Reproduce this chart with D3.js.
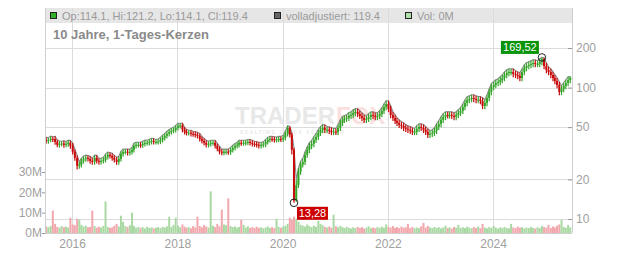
<!DOCTYPE html>
<html lang="de">
<head>
<meta charset="UTF-8">
<title>10 Jahre, 1-Tages-Kerzen</title>
<script src="https://d3js.org/d3.v7.min.js"></script>
<style>
  body { margin: 0; background: #fff; }
  svg { display: block; font-family: "Liberation Sans", Arial, sans-serif; }
  .grid line { stroke: #dcdcdc; stroke-width: 1; }
  .frame line { stroke: #cfcfcf; stroke-width: 1; }
  .axis path { display: none; }
  .axis line { stroke: #999; }
  .axis text { fill: #a0a0a0; font-size: 12px; font-family: "Liberation Sans", Arial, sans-serif; }
</style>
</head>
<body>
<svg id="chart" width="632" height="253"></svg>
<script>
// half-monthly candles, Jul 2015 - Jun 2025
const firstOpen = 39.8;
const closes = [
  39.3, 40.0, 40.7, 40.6, 38.6, 36.7, 37.3, 37.5, 36.7, 37.3,
  38.0, 36.0, 32.5, 29.2, 25.4, 25.9, 27.7, 28.7, 29.2, 28.7,
  27.7, 27.2, 29.2, 27.7, 27.2, 27.7, 28.2, 29.7, 30.8, 30.3,
  29.2, 28.2, 27.2, 28.7, 31.3, 32.5, 32.5, 31.9, 32.5, 33.6,
  36.0, 36.7, 36.7, 36.5, 37.3, 38.0, 38.0, 38.6, 39.3, 38.6,
  38.6, 38.8, 40.0, 41.5, 42.9, 44.5, 46.0, 46.9, 47.7, 49.4,
  51.1, 51.6, 47.7, 46.0, 45.2, 45.4, 44.5, 44.3, 43.7, 42.9,
  40.7, 39.3, 38.0, 36.7, 37.3, 38.0, 38.0, 36.0, 34.2, 32.5,
  31.9, 32.5, 32.5, 32.3, 33.6, 34.8, 36.0, 36.7, 38.0, 37.8,
  38.0, 38.2, 38.6, 38.0, 37.3, 37.1, 36.7, 36.0, 36.7, 36.9,
  38.6, 40.0, 40.7, 40.5, 40.0, 40.2, 40.7, 40.4, 41.5, 44.5,
  49.4, 43.7, 33.6, 13.8, 18.1, 22.9, 25.9, 27.2, 30.8, 33.6,
  36.0, 37.3, 40.0, 42.2, 45.2, 47.7, 49.4, 47.7, 47.7, 46.9,
  46.0, 46.2, 46.0, 49.4, 53.9, 56.8, 57.8, 58.8, 60.9, 61.9,
  64.1, 65.3, 63.0, 60.9, 58.8, 56.8, 57.8, 59.8, 61.9, 60.9,
  59.8, 60.9, 63.0, 66.4, 71.2, 75.0, 68.8, 61.9, 58.8, 55.8,
  53.9, 52.0, 51.1, 49.4, 48.5, 47.7, 46.9, 46.0, 46.0, 48.5,
  50.2, 49.4, 47.7, 46.0, 43.7, 44.5, 45.2, 46.9, 50.2, 52.9,
  56.8, 59.8, 61.9, 61.5, 61.9, 60.9, 59.8, 61.9, 64.1, 66.4,
  71.2, 76.4, 80.5, 81.9, 83.3, 81.9, 80.5, 80.8, 79.1, 72.5,
  76.4, 83.3, 92.6, 101.1, 104.6, 108.4, 110.3, 114.2, 118.3, 124.6,
  129.1, 131.3, 131.3, 126.8, 124.6, 122.5, 118.3, 131.3, 140.9, 145.9,
  148.5, 151.1, 153.8, 151.1, 151.1, 156.5, 164.9, 145.9, 136.0, 131.3,
  124.6, 118.3, 112.2, 104.6, 92.6, 97.6, 102.8, 108.4, 114.2, 119.4
];
const highs = [
  41.8, 41.6, 42.7, 42.3, 42.6, 40.1, 39.2, 39.0, 39.4, 38.9,
  39.8, 39.6, 37.8, 34.0, 30.6, 27.2, 29.0, 30.0, 30.6, 30.4,
  30.0, 29.0, 30.6, 30.5, 28.9, 29.0, 29.5, 31.1, 32.3, 32.1,
  31.7, 30.5, 29.5, 30.0, 32.8, 34.0, 34.0, 34.0, 34.0, 35.2,
  37.7, 38.4, 38.4, 38.3, 39.0, 39.8, 39.7, 40.4, 41.1, 41.0,
  40.3, 40.6, 41.8, 43.4, 44.8, 46.5, 48.1, 49.0, 49.8, 51.6,
  53.4, 53.5, 53.6, 49.8, 48.1, 47.4, 47.4, 46.5, 46.3, 45.7,
  44.8, 42.5, 41.1, 39.7, 39.0, 39.7, 39.7, 39.7, 37.6, 35.7,
  34.0, 34.0, 34.0, 34.0, 35.1, 36.4, 37.6, 38.4, 39.7, 39.7,
  39.7, 39.9, 40.3, 40.3, 39.7, 39.0, 38.8, 38.4, 38.4, 38.6,
  40.3, 41.8, 42.5, 42.5, 42.3, 42.0, 42.5, 42.5, 43.4, 46.5,
  51.3, 50.6, 45.5, 34.8, 19.9, 24.4, 27.5, 28.9, 32.5, 35.5,
  38.1, 39.5, 42.4, 44.7, 47.9, 50.5, 52.3, 52.2, 50.4, 50.2,
  49.6, 48.9, 48.9, 52.3, 57.0, 60.1, 61.2, 62.2, 64.5, 65.5,
  67.8, 69.1, 69.0, 66.6, 64.4, 62.2, 61.1, 63.3, 65.5, 65.4,
  64.4, 64.4, 66.7, 70.3, 75.3, 79.3, 79.4, 72.8, 65.5, 62.2,
  59.0, 57.0, 55.0, 54.0, 52.3, 51.3, 50.5, 49.6, 48.7, 51.3,
  53.1, 53.1, 52.3, 50.5, 48.7, 47.1, 47.8, 49.6, 53.1, 56.0,
  60.1, 63.3, 65.5, 65.5, 65.5, 65.5, 64.4, 65.5, 67.8, 70.3,
  75.3, 80.8, 85.2, 86.7, 88.1, 88.1, 86.7, 85.5, 85.5, 83.7,
  80.8, 88.1, 98.0, 107.0, 110.7, 114.7, 116.7, 120.8, 125.2, 131.8,
  136.6, 138.9, 138.9, 138.9, 134.2, 131.8, 129.6, 138.9, 149.1, 154.4,
  157.1, 159.9, 162.7, 162.7, 159.9, 165.6, 169.52, 168.5, 154.4, 143.9,
  138.9, 131.8, 125.2, 118.7, 110.7, 103.3, 108.8, 114.7, 120.8, 121.2
];
const lows = [
  37.6, 37.4, 38.4, 38.6, 36.8, 35.2, 34.9, 35.7, 34.8, 35.1,
  35.5, 34.3, 31.0, 27.8, 23.8, 24.1, 24.6, 26.4, 27.3, 27.4,
  26.3, 25.9, 25.9, 26.4, 25.9, 26.0, 26.4, 26.9, 28.3, 28.9,
  27.8, 26.9, 25.9, 25.9, 27.4, 29.9, 31.0, 30.4, 30.4, 31.0,
  32.1, 34.4, 35.0, 34.8, 34.9, 35.6, 36.3, 36.3, 36.9, 36.9,
  36.9, 36.9, 37.1, 38.2, 39.6, 41.0, 42.5, 43.9, 44.8, 45.6,
  47.2, 48.8, 45.6, 43.9, 43.2, 43.2, 42.5, 42.3, 41.7, 41.0,
  38.9, 37.5, 36.3, 35.0, 35.0, 35.6, 36.3, 34.4, 32.7, 31.0,
  30.5, 30.5, 31.0, 30.8, 30.8, 32.1, 33.2, 34.4, 35.0, 36.1,
  36.1, 36.3, 36.5, 36.3, 35.6, 35.4, 35.0, 34.4, 34.4, 35.0,
  35.2, 36.9, 38.2, 38.7, 38.2, 38.2, 38.4, 38.6, 38.6, 39.6,
  42.5, 41.7, 31.0, 13.28, 13.5, 17.2, 21.7, 24.6, 25.8, 29.3,
  31.7, 34.0, 35.2, 37.8, 39.9, 42.8, 45.1, 45.1, 45.1, 44.4,
  43.5, 43.5, 43.5, 43.5, 46.7, 51.0, 53.7, 54.7, 55.6, 57.6,
  58.5, 60.6, 59.6, 57.6, 55.6, 53.7, 53.7, 54.7, 56.5, 57.6,
  56.5, 56.5, 57.6, 59.6, 62.8, 67.3, 65.1, 58.5, 55.6, 52.8,
  51.0, 49.2, 48.3, 46.7, 45.9, 45.1, 44.4, 43.5, 43.5, 43.5,
  45.9, 46.7, 45.1, 43.5, 41.3, 41.3, 42.1, 42.8, 44.4, 47.5,
  50.0, 53.7, 56.5, 58.2, 58.2, 57.6, 56.5, 56.5, 58.5, 60.6,
  62.8, 67.3, 72.2, 76.1, 77.4, 77.4, 76.1, 76.1, 74.8, 68.5,
  68.5, 72.2, 78.7, 87.5, 95.6, 98.9, 102.5, 104.3, 107.9, 111.8,
  117.8, 122.0, 124.1, 119.8, 117.8, 115.8, 111.8, 111.8, 124.1, 133.2,
  137.9, 140.3, 142.8, 142.8, 142.8, 142.8, 147.9, 137.9, 128.5, 124.1,
  117.8, 111.8, 106.0, 98.9, 87.5, 87.5, 92.2, 97.1, 102.5, 108.0
];
// volume in millions
const volumes = [
  3.2, 2.8, 3.5, 11.0, 4.5, 3.0, 2.6, 3.4, 2.9, 3.1,
  2.7, 7.5, 4.2, 3.8, 7.0, 6.5, 4.0, 3.2, 3.6, 2.8,
  3.0, 11.0, 3.4, 2.6, 3.1, 2.7, 3.5, 15.5, 3.0, 2.5,
  2.8, 3.6, 4.5, 3.2, 8.5, 5.5, 3.4, 2.9, 3.8, 10.0,
  3.5, 2.6, 3.0, 2.4, 2.9, 2.2, 3.1, 2.5, 2.8, 2.3,
  2.6, 2.9, 2.4, 3.0, 2.7, 3.3, 8.0, 3.0, 4.0, 7.5,
  3.6, 2.8, 4.2, 3.1, 2.6, 2.9, 2.3, 3.4, 2.7, 8.0,
  3.5, 2.8, 3.9, 3.2, 2.7, 20.5, 3.6, 2.9, 4.5, 3.3,
  11.5, 4.2, 3.8, 17.0, 3.4, 2.9, 3.2, 2.6, 3.0, 6.5,
  4.0, 2.7, 3.3, 2.5, 2.9, 2.4, 3.1, 2.6, 2.8, 2.3,
  2.7, 3.2, 2.5, 2.9, 2.4, 7.0, 3.0, 2.6, 3.1, 3.6,
  4.5, 7.5, 6.5, 8.0, 7.0, 5.5, 4.0, 3.6, 3.2, 4.2,
  3.4, 2.9, 3.6, 3.1, 6.0, 4.5, 3.8, 3.0, 2.7, 3.2,
  2.6, 9.0, 3.3, 2.8, 3.5, 2.9, 2.4, 3.1, 2.6, 2.2,
  2.8, 2.4, 3.0, 2.5, 2.9, 2.2, 2.6, 3.3, 2.4, 2.7,
  2.3, 2.9, 2.5, 3.1, 2.6, 4.2, 3.0, 2.7, 3.4, 2.5,
  2.9, 2.4, 3.2, 2.6, 2.8, 4.5, 2.5, 3.0, 2.3, 2.7,
  2.4, 3.3, 5.0, 2.6, 3.5, 2.8, 2.4, 3.0, 2.5, 2.9,
  2.3, 2.7, 3.6, 2.4, 2.8, 2.2, 3.0, 2.6, 4.0, 2.5,
  2.8, 2.4, 3.1, 2.6, 2.3, 2.9, 2.5, 3.2, 2.4, 4.5,
  2.7, 2.3, 2.9, 2.5, 3.4, 2.6, 2.2, 2.8, 2.4, 3.0,
  2.5, 2.3, 4.5, 2.7, 2.4, 3.1, 2.6, 2.9, 2.3, 2.7,
  2.4, 3.0, 2.5, 2.2, 2.8, 2.4, 3.5, 2.9, 2.6, 4.0,
  2.5, 3.2, 2.7, 3.6, 4.2, 6.5, 3.0, 2.6, 4.0, 2.8
];
const priceTicks = [10, 20, 50, 100, 200];
const volumeTicks = [0, 10, 20, 30];
const yearTicks = [2016, 2018, 2020, 2022, 2024];
const legendLabels = ["Op:114.1, Hi:121.2, Lo:114.1, Cl:119.4", "volladjustiert: 119.4", "Vol: 0M"];

// candle dates: 1st and 16th of each month
const dates = closes.map((_, i) => new Date(2015, 6 + Math.floor(i / 2), i % 2 ? 16 : 1));
const candles = closes.map((c, i) => ({
  date: dates[i],
  open: i ? closes[i - 1] : firstOpen,
  high: highs[i],
  low: lows[i],
  close: c,
  volume: volumes[i]
}));

const svg = d3.select("#chart");
const left = 45, right = 572, legendTop = 8, legendBottom = 23, bottom = 233;
const crisp = v => Math.round(v) + 0.5;

const x = d3.scaleTime().domain([new Date(2015, 5, 27), new Date(2025, 6, 2)]).range([left, right]);
const y = d3.scaleLog().domain([10, 200]).range([219, 48]);
const yVol = d3.scaleLinear().domain([0, 30]).range([bottom, 172]);
const cx = d => x(d.date) + 0.6;
const up = d => d.close >= d.open;

svg.append("defs").append("clipPath").attr("id", "plot")
  .append("rect").attr("x", left).attr("y", legendBottom)
  .attr("width", right - left).attr("height", bottom - legendBottom);

// legend bar
svg.append("rect")
  .attr("x", left).attr("y", legendTop)
  .attr("width", right - left).attr("height", legendBottom - legendTop)
  .attr("fill", "#e6e6e6");

// watermark
const wm = svg.append("g").attr("font-weight", "bold");
wm.append("text").attr("x", 235).attr("y", 124).attr("font-size", 24).attr("fill", "#e8e8e8").text("TRADER");
wm.append("text").attr("x", 336).attr("y", 124).attr("font-size", 24).attr("fill", "#fbe0e0").text("FOX");
wm.append("text").attr("x", 240).attr("y", 134).attr("font-size", 5).attr("letter-spacing", 1.4)
  .attr("fill", "#eaeaea").text("REALTIME STOCK SCREENER");

// grid
svg.append("g").attr("class", "grid")
  .selectAll("line").data(priceTicks).join("line")
  .attr("x1", left).attr("x2", right)
  .attr("y1", d => crisp(y(d))).attr("y2", d => crisp(y(d)));
svg.append("g").attr("class", "grid")
  .selectAll("line").data(yearTicks).join("line")
  .attr("x1", d => crisp(x(new Date(d, 0, 1)))).attr("x2", d => crisp(x(new Date(d, 0, 1))))
  .attr("y1", legendTop).attr("y2", bottom);

const plot = svg.append("g").attr("clip-path", "url(#plot)");

// volume
plot.append("g").selectAll("rect").data(candles).join("rect")
  .attr("x", d => cx(d) - 1).attr("width", 2)
  .attr("y", d => yVol(d.volume)).attr("height", d => bottom - yVol(d.volume))
  .attr("fill", d => up(d) ? "#a9d9a2" : "#f2a7ad");

// adjusted line
plot.append("path").datum(candles)
  .attr("fill", "none").attr("stroke", "#8c8c8c").attr("stroke-width", 1.1)
  .attr("d", d3.line().x(cx).y(d => y(d.high)));

// candles
const cg = plot.append("g").selectAll("g").data(candles).join("g");
cg.append("line")
  .attr("x1", cx).attr("x2", cx)
  .attr("y1", d => y(d.high)).attr("y2", d => y(d.low))
  .attr("stroke", d => up(d) ? "#35a52a" : "#c80a0a").attr("stroke-width", 1.2);
cg.append("rect")
  .attr("x", d => cx(d) - 1).attr("width", 2)
  .attr("y", d => y(Math.max(d.open, d.close)))
  .attr("height", d => Math.max(1, Math.abs(y(d.open) - y(d.close))))
  .attr("fill", d => up(d) ? "#35a52a" : "#c80a0a");

// frame
const frame = svg.append("g").attr("class", "frame");
frame.append("line").attr("x1", left + 0.5).attr("x2", left + 0.5).attr("y1", legendTop).attr("y2", bottom);
frame.append("line").attr("x1", right + 0.5).attr("x2", right + 0.5).attr("y1", legendTop).attr("y2", bottom);
frame.append("line").attr("x1", left).attr("x2", right).attr("y1", bottom + 0.5).attr("y2", bottom + 0.5);

// axes
svg.append("g").attr("class", "axis").attr("transform", `translate(${right},0)`)
  .call(d3.axisRight(y).tickValues(priceTicks).tickFormat(d3.format("d")).tickSize(-4).tickPadding(4));
svg.append("g").attr("class", "axis").attr("transform", `translate(${left},0)`)
  .call(d3.axisLeft(yVol).tickValues(volumeTicks).tickFormat(d => d + "M").tickSize(3).tickPadding(0));
svg.append("g").attr("class", "axis").attr("transform", `translate(0,${bottom})`)
  .call(d3.axisBottom(x).tickValues(yearTicks.map(yr => new Date(yr, 0, 1)))
    .tickFormat(d3.timeFormat("%Y")).tickSize(0).tickPadding(6));

// high / low markers
const fmt = v => d3.format(".2f")(v).replace(".", ",");
const hiC = candles[d3.maxIndex(candles, d => d.high)];
const loC = candles[d3.minIndex(candles, d => d.low)];
const marks = [
  { c: hiC, v: hiC.high, color: "#0a940a", dx: -41, dy: -16.5, w: 38 },
  { c: loC, v: loC.low, color: "#cc0000", dx: 3, dy: 4, w: 31 }
];
marks.forEach(m => {
  const px = cx(m.c), py = y(m.v);
  svg.append("circle").attr("cx", px).attr("cy", py).attr("r", 3.8)
    .attr("fill", "none").attr("stroke", "#222").attr("stroke-width", 1);
  svg.append("rect").attr("x", px + m.dx).attr("y", py + m.dy)
    .attr("width", m.w).attr("height", 13).attr("fill", m.color);
  svg.append("text").attr("x", px + m.dx + m.w / 2).attr("y", py + m.dy + 10.5)
    .attr("text-anchor", "middle").attr("font-size", 11).attr("fill", "#fff").text(fmt(m.v));
});

// legend
const legendItems = [
  { x: 50.5, fill: "#33b02a", label: legendLabels[0] },
  { x: 274.5, fill: "#666666", label: legendLabels[1] },
  { x: 405.5, fill: "#b2e0ad", label: legendLabels[2] }
];
const lg = svg.append("g").selectAll("g").data(legendItems).join("g");
lg.append("rect").attr("x", d => d.x).attr("y", 12.5).attr("width", 6).attr("height", 6)
  .attr("fill", d => d.fill).attr("stroke", "#222").attr("stroke-width", 1);
lg.append("text").attr("x", d => d.x + 11.5).attr("y", 19.5)
  .attr("font-size", 11).attr("fill", "#9a9a9a").text(d => d.label);

// title
svg.append("text").attr("x", 53).attr("y", 38.5)
  .attr("font-size", 13).attr("font-weight", "bold").attr("fill", "#8a8a8a")
  .text("10 Jahre, 1-Tages-Kerzen");
</script>
</body>
</html>
